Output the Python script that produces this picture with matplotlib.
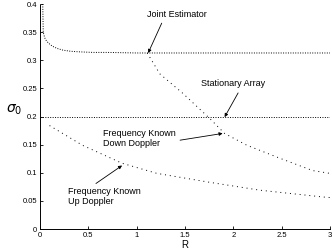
import matplotlib
matplotlib.use("Agg")
import matplotlib.pyplot as plt

plt.rcParams['font.family'] = ['Liberation Sans', 'DejaVu Sans']

# curve data
R_joint = [0.03, 0.035, 0.05, 0.07, 0.1, 0.13, 0.18, 0.24, 0.32, 0.41, 0.55, 0.7, 1.0, 1.5, 2.0, 2.5, 3.0]
joint = [0.4, 0.35, 0.34, 0.334, 0.329, 0.325, 0.321, 0.318, 0.316, 0.315, 0.314, 0.314, 0.313, 0.313, 0.313, 0.313, 0.313]

R_stat = [0.0, 3.0]
stat = [0.199, 0.199]

R_down = [1.11, 1.24, 1.48, 1.76, 1.91, 2.14, 2.48, 2.82, 3.0]
down = [0.313, 0.276, 0.241, 0.196, 0.170, 0.149, 0.126, 0.104, 0.099]

R_up = [0.1, 0.44, 0.85, 1.21, 1.76, 2.28, 2.93, 3.0]
up = [0.184, 0.149, 0.117, 0.099, 0.083, 0.069, 0.057, 0.056]

xticks = [0, 0.5, 1, 1.5, 2, 2.5, 3]
xtick_labels = ['0', '0.5', '1', '1.5', '2', '2.5', '3']
yticks = [0, 0.05, 0.1, 0.15, 0.2, 0.25, 0.3, 0.35, 0.4]
ytick_labels = ['0', '0.05', '0.1', '0.15', '0.2', '0.25', '0.3', '0.35', '0.4']

fig = plt.figure(figsize=(3.32, 2.52), dpi=100)
ax = fig.add_axes([0.12, 0.091, 0.874, 0.893])

ax.plot(R_joint, joint, color='k', lw=0.7, linestyle=(0, (1, 1.5)))
ax.plot(R_stat, stat, color='k', lw=0.7, linestyle=(0, (1, 1.5)))
ax.plot(R_down, down, color='k', lw=0.7, linestyle=(0, (1, 4)))
ax.plot(R_up, up, color='k', lw=0.7, linestyle=(0, (1, 4)))

ax.set_xlim(0, 3)
ax.set_ylim(0, 0.4)
ax.set_xticks(xticks, xtick_labels)
ax.set_yticks(yticks, ytick_labels)
ax.tick_params(direction='in', length=2, width=0.6, labelsize=5.5, pad=2)

for s in ['top', 'right']:
    ax.spines[s].set_visible(False)
ax.spines['left'].set_linestyle((0, (1, 1)))
ax.spines['bottom'].set_linestyle((0, (3, 1)))
ax.spines['left'].set_linewidth(0.7)
ax.spines['bottom'].set_linewidth(0.7)

ax.set_xlabel('R', fontsize=7, labelpad=1)
ax.set_ylabel(r'$\sigma_0$', fontsize=10, rotation=0, labelpad=8)
ax.yaxis.set_label_coords(-0.09, 0.5)

arrow = dict(arrowstyle='-|>', lw=0.6, color='k', mutation_scale=5, shrinkA=0, shrinkB=0)

ax.text(1.42, 0.382, 'Joint Estimator', fontsize=6.5, ha='center', va='center')
ax.annotate('', xy=(1.12, 0.313), xytext=(1.26, 0.366), arrowprops=arrow)

ax.text(2.0, 0.258, 'Stationary Array', fontsize=6.5, ha='center', va='center')
ax.annotate('', xy=(1.91, 0.199), xytext=(2.05, 0.242), arrowprops=arrow)

ax.text(0.65, 0.161, 'Frequency Known\nDown Doppler', fontsize=6.5, ha='left', va='center', linespacing=1.1)
ax.annotate('', xy=(1.89, 0.17), xytext=(1.45, 0.158), arrowprops=arrow)

ax.text(0.29, 0.058, 'Frequency Known\nUp Doppler', fontsize=6.5, ha='left', va='center', linespacing=1.1)
ax.annotate('', xy=(0.85, 0.113), xytext=(0.58, 0.081), arrowprops=arrow)

fig.savefig('out.png', dpi=100)
